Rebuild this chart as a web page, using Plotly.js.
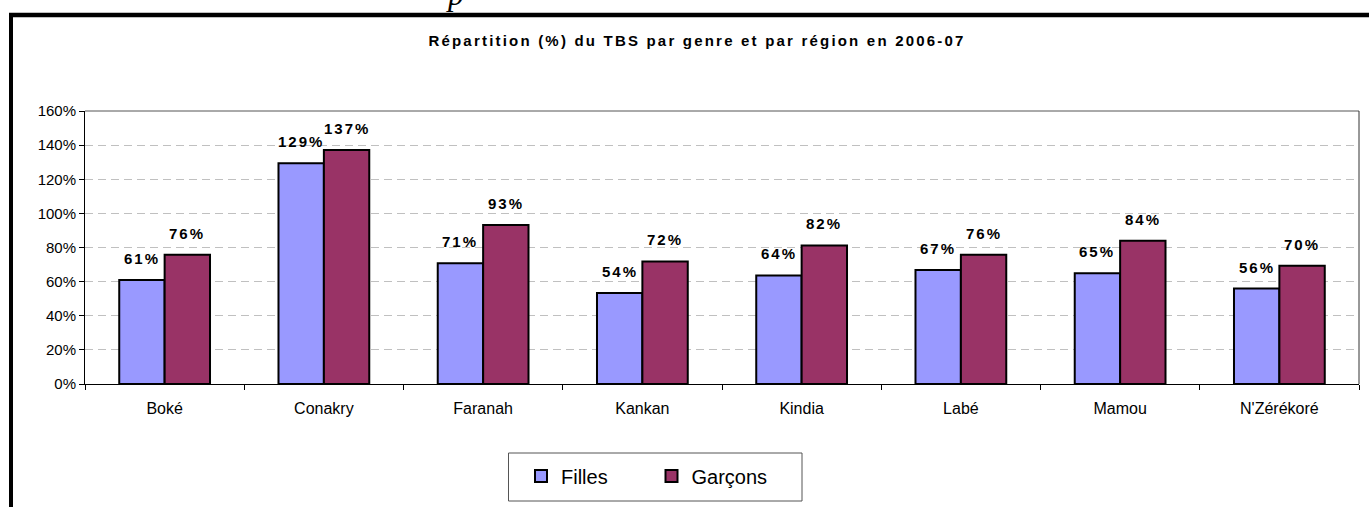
<!DOCTYPE html>
<html><head><meta charset="utf-8">
<script src="https://cdn.plot.ly/plotly-3.0.1.min.js"></script>
<style>
html,body{margin:0;padding:0;background:#fff;overflow:hidden;}
.gtitle{letter-spacing:2.2px;}
.annotation-text{letter-spacing:2px;}
</style>
</head><body>
<div id="chart" style="width:1369px;height:507px;"></div>
<script>
const categories = ['Boké','Conakry','Faranah','Kankan','Kindia','Labé','Mamou',"N'Zérékoré"];
const filles = [61.0,129.4,70.7,53.3,63.6,66.8,64.9,55.9];
const garcons = [75.7,137.2,93.2,71.8,81.2,75.7,83.9,69.3];
const fillesLabels = ['61%','129%','71%','54%','64%','67%','65%','56%'];
const garconsLabels = ['76%','137%','93%','72%','82%','76%','84%','70%'];
const yTickVals = [0,20,40,60,80,100,120,140,160];
const yTickText = ['0%','20%','40%','60%','80%','100%','120%','140%','160%'];
const seriesNames = ['Filles','Garçons'];
const titleText = 'Répartition (%) du TBS par genre et par région en 2006-07';

const W = 1369, H = 507, ML = 85, MR = 10, MT = 111, MB = 123;
const PW = W - ML - MR, PH = H - MT - MB;
const px = x => (x - ML) / PW;
const py = y => (H - MB - y) / PH;

const FONT = '"Liberation Sans", Arial, sans-serif';
const BARGAP = 0.43;
const off = (1 - BARGAP) / 4;

const traces = [
  {type:'bar', name:seriesNames[0], x:categories, y:filles,
   marker:{color:'#9999FF', line:{color:'#000', width:2}}, hoverinfo:'skip'},
  {type:'bar', name:seriesNames[1], x:categories, y:garcons,
   marker:{color:'#993366', line:{color:'#000', width:2}}, hoverinfo:'skip'}
];

const annotations = [];
categories.forEach((c,i)=>{
  annotations.push({x:i-off, y:filles[i], xref:'x', yref:'y', text:fillesLabels[i], showarrow:false,
    yanchor:'middle', xanchor:'center', yshift:21.5, font:{family:FONT, size:15, color:'#000', weight:'bold'}});
  annotations.push({x:i+off, y:garcons[i], xref:'x', yref:'y', text:garconsLabels[i], showarrow:false,
    yanchor:'middle', xanchor:'center', yshift:21.5, font:{family:FONT, size:15, color:'#000', weight:'bold'}});
});
annotations.push({x:px(456), y:py(14), xref:'paper', yref:'paper', text:'<i>p</i>', showarrow:false,
  xanchor:'center', yanchor:'bottom', font:{family:'"Liberation Serif", "Times New Roman", serif', size:32, color:'#000'}});

const shapes = [
  {type:'line', xref:'paper', yref:'paper', x0:0, x1:1, y0:1, y1:1, line:{color:'#555', width:1}, layer:'above'},
  {type:'line', xref:'paper', yref:'paper', x0:1, x1:1, y0:0, y1:1, line:{color:'#333', width:1}, layer:'above'},
  {type:'line', xref:'paper', yref:'paper', x0:px(9), x1:px(1380), y0:py(15), y1:py(15), line:{color:'#000', width:4.5}, layer:'above'},
  {type:'line', xref:'paper', yref:'paper', x0:px(11), x1:px(11), y0:py(13), y1:py(520), line:{color:'#000', width:4}, layer:'above'},
  {type:'rect', xref:'paper', yref:'paper', x0:px(508.5), x1:px(802), y0:py(453), y1:py(501), line:{color:'#555', width:1}, layer:'above'}
];

const layout = {
  width:W, height:H,
  margin:{l:ML, r:MR, t:MT, b:MB, pad:0},
  paper_bgcolor:'#fff', plot_bgcolor:'#fff',
  font:{family:FONT, color:'#000'},
  title:{text:titleText, x:697/W, xref:'container', xanchor:'center', y:1-40.5/H, yref:'container', yanchor:'middle',
    font:{family:FONT, size:15, color:'#000', weight:'bold'}},
  barmode:'group', bargap:BARGAP, bargroupgap:0,
  showlegend:true,
  legend:{orientation:'h', x:px(521), xanchor:'left', y:py(476), yanchor:'middle',
    font:{family:FONT, size:20, color:'#000'}, bgcolor:'rgba(0,0,0,0)', borderwidth:0,
    entrywidth:85.5, entrywidthmode:'pixels', traceorder:'normal'},
  xaxis:{type:'category', showline:true, linecolor:'#000', linewidth:1, ticks:'outside', tickson:'boundaries',
    ticklen:5, tickcolor:'#000', tickwidth:1, showgrid:false, zeroline:false,
    tickfont:{family:FONT, size:16, color:'#000'}, ticklabelstandoff:10, fixedrange:true},
  yaxis:{range:[0,160], tickvals:yTickVals, ticktext:yTickText, showline:true, linecolor:'#000', linewidth:1,
    ticks:'outside', ticklen:5, tickcolor:'#000', tickwidth:1, showgrid:true, gridcolor:'#C0C0C0', gridwidth:1,
    griddash:'8px,5px', zeroline:false, tickfont:{family:FONT, size:15, color:'#000'}, fixedrange:true},
  annotations:annotations,
  shapes:shapes
};

Plotly.newPlot('chart', traces, layout, {displayModeBar:false, staticPlot:true});
</script>
</body></html>
